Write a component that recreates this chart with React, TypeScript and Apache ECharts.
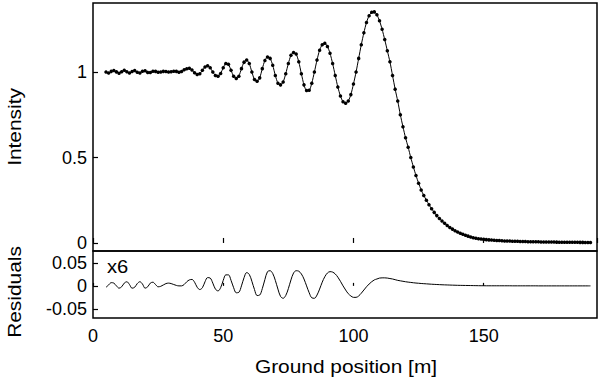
import React, { useEffect, useRef } from "react";
import * as echarts from "echarts";

// ground positions (m), one sample per metre from 5 to 191
const positionStart = 5;
const intensity = [
  1.0, 0.995, 1.004, 1.009, 1.001, 0.993, 1.002, 1.01, 1.002, 0.994,
  1.003, 1.009, 0.999, 0.995, 1.005, 1.007, 0.998, 0.997, 1.005, 1.004,
  0.999, 1.0, 1.004, 1.003, 1.0, 1.002, 1.005, 1.004, 0.999, 1.003,
  1.013, 1.019, 1.022, 1.012, 0.996, 0.986, 0.99, 1.01, 1.03, 1.037,
  1.025, 1.0, 0.98, 0.975, 0.992, 1.025, 1.05, 1.045, 1.01, 0.975,
  0.962, 0.976, 1.02, 1.058, 1.07, 1.05, 1.0, 0.956, 0.946, 0.966,
  1.02, 1.068, 1.088, 1.08, 1.04, 0.98, 0.935, 0.925, 0.942, 0.99,
  1.05, 1.098, 1.115, 1.105, 1.06, 0.99, 0.925, 0.892, 0.893, 0.935,
  1.0, 1.07, 1.128, 1.16, 1.168, 1.15, 1.11, 1.05, 0.98, 0.912,
  0.86, 0.826, 0.817, 0.83, 0.868, 0.93, 1.0, 1.08, 1.16, 1.23,
  1.29, 1.33, 1.35, 1.352, 1.335, 1.3, 1.25, 1.19, 1.125, 1.06,
  0.98, 0.9, 0.83, 0.75, 0.68, 0.615, 0.56, 0.5, 0.445, 0.395,
  0.35, 0.31, 0.278, 0.25, 0.224, 0.2, 0.179, 0.16, 0.143, 0.128,
  0.115, 0.102, 0.091, 0.081, 0.072, 0.064, 0.057, 0.051, 0.045, 0.04,
  0.035, 0.031, 0.028, 0.025, 0.023, 0.021, 0.0195, 0.018, 0.017, 0.016,
  0.015, 0.014, 0.013, 0.012, 0.0115, 0.011, 0.0105, 0.01, 0.0095, 0.009,
  0.0085, 0.008, 0.0077, 0.0074, 0.0071, 0.0068, 0.0065, 0.0062, 0.006, 0.0058,
  0.0055, 0.0053, 0.0051, 0.0049, 0.0047, 0.0045, 0.0043, 0.0042, 0.004, 0.0039,
  0.0037, 0.0036, 0.0035, 0.0034, 0.0033, 0.0032, 0.0031,
];
const residualsX6 = [
  -0.003, 0.002, 0.007, 0.006, 0.0, -0.005, -0.002, 0.006, 0.009, 0.003,
  -0.005, -0.003, 0.005, 0.009, 0.004, -0.005, -0.002, 0.006, 0.008, 0.003,
  -0.002, -0.001, 0.002, 0.005, 0.006, 0.005, 0.003, 0.001, 0.0, 0.0,
  0.003, 0.009, 0.013, 0.014, 0.008, -0.003, -0.008, -0.004, 0.009, 0.018,
  0.017, 0.006, -0.007, -0.011, -0.004, 0.012, 0.024, 0.024, 0.012, -0.004,
  -0.015, -0.014, 0.0, 0.018, 0.029, 0.025, 0.01, -0.008, -0.021, -0.02,
  -0.006, 0.014, 0.031, 0.033, 0.027, 0.012, -0.007, -0.023, -0.027, -0.021,
  -0.006, 0.013, 0.028, 0.033, 0.032, 0.026, 0.015, 0.0, -0.015, -0.026,
  -0.027, -0.02, -0.007, 0.008, 0.02, 0.028, 0.031, 0.03, 0.026, 0.019,
  0.01, 0.0, -0.009, -0.017, -0.022, -0.025, -0.025, -0.022, -0.016, -0.009,
  -0.002, 0.004, 0.009, 0.013, 0.015, 0.017, 0.0175, 0.0175, 0.017, 0.016,
  0.015, 0.0135, 0.012, 0.011, 0.01, 0.009, 0.0082, 0.0075, 0.0068, 0.0062,
  0.0057, 0.0052, 0.0048, 0.0044, 0.004, 0.0036, 0.0033, 0.003, 0.0027, 0.0024,
  0.0022, 0.002, 0.0018, 0.0016, 0.0014, 0.0012, 0.0011, 0.001, 0.0009, 0.0008,
  0.0007, 0.0006, 0.0005, 0.0004, 0.0003, 0.0003, 0.0002, 0.0002, 0.0002, 0.0002,
  0.0002, 0.0002, 0.0002, 0.0002, 0.0002, 0.0002, 0.0001, 0.0001, 0.0001, 0.0001,
  0.0001, 0.0001, 0.0001, 0.0001, 0.0001, 0.0001, 0.0, 0.0, 0.0, 0.0,
  0.0, 0.0, 0.0, 0.0, 0.0, 0.0, 0.0, 0.0, 0.0, 0.0,
  0.0, 0.0, 0.0, 0.0, 0.0, 0.0, 0.0,
];
const intensityTicks = [0, 0.5, 1];
const residualTicks = [-0.05, 0, 0.05];
const positionInterval = 50;

const FONT = "'Liberation Sans', Arial, Helvetica, sans-serif";

export default function App() {
  const ref = useRef<HTMLDivElement>(null);
  useEffect(() => {
    if (!ref.current) return;
    const chart = echarts.init(ref.current, undefined, { renderer: "svg" });
    const topData = intensity.map((v, i) => [positionStart + i, v]);
    const resData = residualsX6.map((v, i) => [positionStart + i, v]);
    const fmt = (v: number) => String(Math.round(v * 1000) / 1000);
    const tickStyle = { lineStyle: { color: "#000", width: 1.2 } };
    const labelStyle = { color: "#000", fontSize: 18, fontFamily: FONT };
    chart.setOption({
      animation: false,
      backgroundColor: "#fff",
      grid: [
        { left: 93, top: 3, width: 504, height: 248, show: true, borderColor: "#000", borderWidth: 1.5 },
        { left: 93, top: 251, width: 504, height: 67, show: true, borderColor: "#000", borderWidth: 1.5 },
      ],
      xAxis: [
        {
          type: "value", gridIndex: 0, min: 0, max: 193.5, interval: positionInterval,
          axisLine: { show: false },
          axisTick: { show: true, inside: true, length: 5, ...tickStyle },
          axisLabel: { show: false },
          splitLine: { show: false },
        },
        {
          type: "value", gridIndex: 1, min: 0, max: 193.5, interval: positionInterval,
          axisLine: { show: false },
          axisTick: { show: true, inside: true, length: 3, ...tickStyle },
          axisLabel: { ...labelStyle, margin: 9, showMaxLabel: false },
          splitLine: { show: false },
        },
      ],
      yAxis: [
        {
          type: "value", gridIndex: 0, min: -0.047, max: 1.404,
          axisLine: { show: false },
          axisTick: { show: true, inside: true, length: 5, customValues: intensityTicks, ...tickStyle },
          axisLabel: { ...labelStyle, margin: 6, customValues: intensityTicks, formatter: fmt },
          splitLine: { show: false },
        },
        {
          type: "value", gridIndex: 1, min: -0.07, max: 0.076,
          axisLine: { show: false },
          axisTick: { show: true, inside: true, length: 5, customValues: residualTicks, ...tickStyle },
          axisLabel: { ...labelStyle, margin: 6, customValues: residualTicks, formatter: fmt },
          splitLine: { show: false },
        },
      ],
      series: [
        {
          type: "line", xAxisIndex: 0, yAxisIndex: 0, data: topData,
          smooth: 0.25, showSymbol: true, symbol: "circle", symbolSize: 3.5,
          itemStyle: { color: "#000" }, lineStyle: { color: "#000", width: 1 },
          silent: true,
        },
        {
          type: "line", xAxisIndex: 1, yAxisIndex: 1, data: resData,
          smooth: 0.35, showSymbol: false,
          lineStyle: { color: "#000", width: 1 },
          silent: true,
        },
      ],
      graphic: [
        {
          type: "text", x: 15, y: 127, rotation: Math.PI / 2, scaleX: 1.16,
          style: { text: "Intensity", fill: "#000", fontSize: 18, fontFamily: FONT, textAlign: "center", textVerticalAlign: "middle" },
        },
        {
          type: "text", x: 15, y: 292, rotation: Math.PI / 2, scaleX: 1.16,
          style: { text: "Residuals", fill: "#000", fontSize: 18, fontFamily: FONT, textAlign: "center", textVerticalAlign: "middle" },
        },
        {
          type: "text", x: 346, y: 367, scaleX: 1.16,
          style: { text: "Ground position [m]", fill: "#000", fontSize: 18, fontFamily: FONT, textAlign: "center", textVerticalAlign: "middle" },
        },
        {
          type: "text", x: 107, y: 267, scaleX: 1.12,
          style: { text: "x6", fill: "#000", fontSize: 18, fontFamily: FONT, textAlign: "left", textVerticalAlign: "middle" },
        },
      ],
    });
    return () => chart.dispose();
  }, []);
  return <div ref={ref} style={{ position: "fixed", left: 0, top: 0, width: 600, height: 384 }} />;
}
